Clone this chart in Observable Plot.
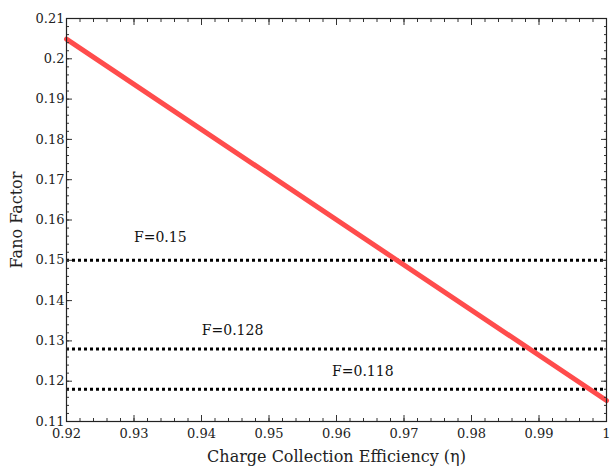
<!DOCTYPE html>
<html>
<head>
<meta charset="utf-8">
<script src="https://cdn.jsdelivr.net/npm/d3@7"></script>
<script src="https://cdn.jsdelivr.net/npm/@observablehq/plot@0.6"></script>
<style>
  body { margin: 0; background: #fff; }
  #chart svg { display: block; font-family: "DejaVu Serif", serif !important; }
  #chart svg text { font-family: "DejaVu Serif", serif !important; }
</style>
</head>
<body>
<div id="chart"></div>
<script>
// Data
const efficiency = [0.92, 1.0];
const fano = [0.2049, 0.1152];
const refValues = [0.15, 0.128, 0.118];
const refLabels = ["F=0.15", "F=0.128", "F=0.118"];
const refLabelX = [0.9339, 0.9446, 0.9639];
const refLabelY = [0.1556, 0.1326, 0.1224];

const xTicks = [0.92, 0.93, 0.94, 0.95, 0.96, 0.97, 0.98, 0.99, 1.0];
const xTickLabels = ["0.92", "0.93", "0.94", "0.95", "0.96", "0.97", "0.98", "0.99", "1"];
const yTicks = [0.11, 0.12, 0.13, 0.14, 0.15, 0.16, 0.17, 0.18, 0.19, 0.2, 0.21];
const yTickLabels = ["0.11", "0.12", "0.13", "0.14", "0.15", "0.16", "0.17", "0.18", "0.19", "0.2", "0.21"];
const xMinor = d3.range(0, 41).map(i => +(0.92 + i * 0.002).toFixed(3));
const yMinor = d3.range(0, 51).map(i => +(0.11 + i * 0.002).toFixed(3));

const lineData = efficiency.map((x, i) => ({x, y: fano[i]}));
const refData = refValues.map((v, i) => ({v, label: refLabels[i], lx: refLabelX[i], ly: refLabelY[i]}));

const font = "DejaVu Serif";

const xFmt = d => xTickLabels[xTicks.findIndex(t => Math.abs(t - d) < 1e-9)];
const yFmt = d => yTickLabels[yTicks.findIndex(t => Math.abs(t - d) < 1e-9)];
const blank = () => "";

const chart = Plot.plot({
  width: 610,
  height: 466,
  marginLeft: 66,
  marginRight: 4,
  marginTop: 18,
  marginBottom: 45,
  style: {fontFamily: font, fontSize: "13px", color: "#222", background: "#fff"},
  x: {domain: [0.92, 1.0]},
  y: {domain: [0.11, 0.21]},
  marks: [
    Plot.ruleY(refData, {y: "v", stroke: "#000", strokeWidth: 3, strokeDasharray: "3,3"}),
    Plot.line(lineData, {x: "x", y: "y", stroke: "#ff4c4c", strokeWidth: 5}),
    Plot.text(refData, {x: "lx", y: "ly", text: "label", fontSize: 14, fontFamily: font, fill: "#111", textAnchor: "middle"}),
    // minor ticks
    Plot.axisX({anchor: "bottom", ticks: xMinor, tickSize: -3, tickFormat: blank, label: null, stroke: "#333"}),
    Plot.axisX({anchor: "top", ticks: xMinor, tickSize: -3, tickFormat: blank, label: null, stroke: "#333"}),
    Plot.axisY({anchor: "left", ticks: yMinor, tickSize: -3, tickFormat: blank, label: null, stroke: "#333"}),
    Plot.axisY({anchor: "right", ticks: yMinor, tickSize: -3, tickFormat: blank, label: null, stroke: "#333"}),
    // major ticks with labels
    Plot.axisX({anchor: "bottom", ticks: xTicks, tickSize: -6, tickPadding: 13, tickFormat: xFmt, fontSize: 13, fontFamily: font, label: null, stroke: "#333", fill: "#222"}),
    Plot.axisX({anchor: "top", ticks: xTicks, tickSize: -6, tickFormat: blank, label: null, stroke: "#333"}),
    Plot.axisY({anchor: "left", ticks: yTicks, tickSize: -6, tickPadding: 8, tickFormat: yFmt, fontSize: 13, fontFamily: font, label: null, stroke: "#333", fill: "#222"}),
    Plot.axisY({anchor: "right", ticks: yTicks, tickSize: -6, tickFormat: blank, label: null, stroke: "#333"}),
    // axis titles
    Plot.axisX({anchor: "bottom", ticks: [], tickSize: 0, label: "Charge Collection Efficiency (η)", labelAnchor: "center", labelArrow: "none", labelOffset: 40, fontSize: 16, fontFamily: font, fill: "#222"}),
    Plot.axisY({anchor: "left", ticks: [], tickSize: 0, label: "Fano Factor", labelAnchor: "center", labelArrow: "none", labelOffset: 56, fontSize: 16, fontFamily: font, fill: "#222"}),
    Plot.frame({stroke: "#222", strokeWidth: 1.2})
  ]
});
document.getElementById("chart").appendChild(chart);
</script>
</body>
</html>
